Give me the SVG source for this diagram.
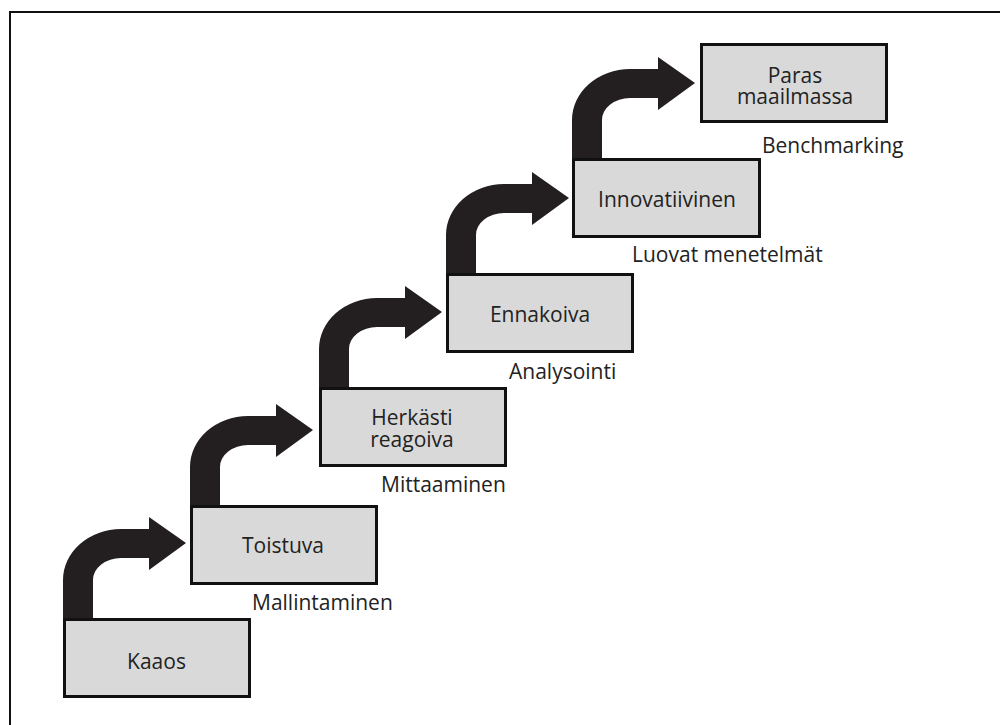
<svg xmlns="http://www.w3.org/2000/svg" width="1000" height="725" viewBox="0 0 1000 725">
<style>
.box{fill:#d9d9d9;stroke:#111;stroke-width:3}
.lbl{font-family:"Open Sans","DejaVu Sans",sans-serif;font-size:21px;fill:#222;text-anchor:middle}
.sub{font-family:"Open Sans","DejaVu Sans",sans-serif;font-size:21px;fill:#222}
.arr{fill:#231f20}
</style>
<defs>
<path id="arrow" class="arr" d="M0,0 L0,-38 A58 51 0 0 1 58,-89 L86,-89 L86,-101 L123,-75 L86,-48 L86,-60 L58,-60 A28 22 0 0 0 30,-38 L30,0 Z"/>
</defs>
<rect x="0" y="0" width="1000" height="725" fill="#fff"/>
<rect x="10" y="12" width="1000" height="730" fill="none" stroke="#111" stroke-width="2"/>
<g id="connectors">
<use href="#arrow" x="63" y="618"/>
<use href="#arrow" x="190" y="505"/>
<use href="#arrow" x="319" y="387"/>
<use href="#arrow" x="446" y="273"/>
<use href="#arrow" x="572" y="158"/>
</g>
<g id="kaaos">
<rect class="box" x="64.5" y="619.5" width="185" height="77"/>
<text class="lbl" x="156.5" y="668.5">Kaaos</text>
</g>
<g id="toistuva">
<rect class="box" x="191.5" y="506.5" width="185" height="77"/>
<text class="lbl" x="283" y="552.5">Toistuva</text>
<text class="sub" x="252" y="610">Mallintaminen</text>
</g>
<g id="herkasti">
<rect class="box" x="320.5" y="388.5" width="185" height="77"/>
<text class="lbl" x="412" y="425">Herkästi</text>
<text class="lbl" x="412" y="447">reagoiva</text>
<text class="sub" x="381" y="492">Mittaaminen</text>
</g>
<g id="ennakoiva">
<rect class="box" x="447.5" y="274.5" width="185" height="77"/>
<text class="lbl" x="540" y="322">Ennakoiva</text>
<text class="sub" x="509" y="379">Analysointi</text>
</g>
<g id="innovatiivinen">
<rect class="box" x="573.5" y="159.5" width="186" height="77"/>
<text class="lbl" x="667" y="206.5">Innovatiivinen</text>
<text class="sub" x="632" y="261.5">Luovat menetelmät</text>
</g>
<g id="paras">
<rect class="box" x="701.5" y="44.5" width="185" height="77"/>
<text class="lbl" x="795" y="82.5">Paras</text>
<text class="lbl" x="795" y="103.5">maailmassa</text>
<text class="sub" x="762" y="153">Benchmarking</text>
</g>
</svg>
